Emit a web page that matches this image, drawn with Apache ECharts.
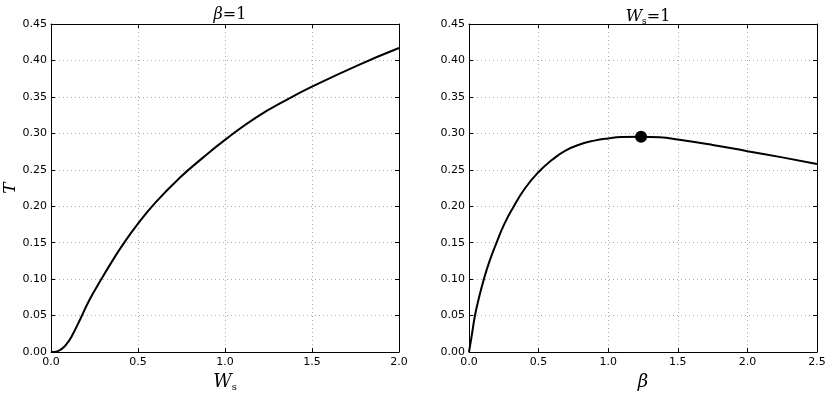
<!DOCTYPE html>
<html>
<head>
<meta charset="utf-8">
<script src="https://cdn.jsdelivr.net/npm/echarts@6/dist/echarts.min.js"></script>
<style>
  html, body { margin: 0; padding: 0; background: #fff; }
  #chart { width: 831px; height: 393px; }
</style>
</head>
<body>
<div id="chart"></div>
<script>
// left panel: T against W_s at beta = 1
const wsValues = [0, 0.03, 0.06, 0.09, 0.12, 0.17, 0.22, 0.287, 0.35, 0.412, 0.5, 0.6, 0.74, 0.87, 1.0, 1.18, 1.37, 1.5, 1.76, 2.0]
const tLeft = [0, 0.0005, 0.004, 0.011, 0.022, 0.046, 0.071, 0.099, 0.124, 0.147, 0.176, 0.205, 0.239, 0.266, 0.291, 0.322, 0.348, 0.364, 0.393, 0.417]

// right panel: T against beta at W_s = 1
const betaValues = [0, 0.02, 0.043, 0.07, 0.107, 0.15, 0.198, 0.25, 0.31, 0.4, 0.5, 0.6, 0.69, 0.8, 0.9, 1.0, 1.1, 1.236, 1.37, 1.5, 1.75, 2.0, 2.25, 2.5]
const tRight = [0, 0.023, 0.05, 0.073, 0.10, 0.126, 0.15, 0.174, 0.196, 0.224, 0.247, 0.264, 0.276, 0.285, 0.29, 0.293, 0.2948, 0.2954, 0.2945, 0.2915, 0.284, 0.2755, 0.267, 0.258]

// optimum marker
const peakPoint = [1.236, 0.2954]

const chartInstance = echarts.init(document.getElementById('chart'))

const tickFont = { fontFamily: 'DejaVu Sans', fontSize: 11, color: '#000' }
const frameLine = { show: true, onZero: false, lineStyle: { color: '#000', width: 1 } }
const innerTick = { show: true, inside: true, length: 4, lineStyle: { color: '#000' } }
const dotted = { show: true, lineStyle: { color: '#aaa', type: [1, 3], width: 1 } }

function bottomAxis (grid, max, name, nameRich, gap) {
  return {
    type: 'value',
    gridIndex: grid,
    position: 'bottom',
    min: 0,
    max: max,
    interval: 0.5,
    axisLine: frameLine,
    axisTick: innerTick,
    splitLine: dotted,
    axisLabel: Object.assign({ margin: 5, formatter: v => v.toFixed(1) }, tickFont),
    name: name,
    nameLocation: 'middle',
    nameGap: gap,
    nameTextStyle: { rich: nameRich }
  }
}

function topAxis (grid, max) {
  return {
    type: 'value',
    gridIndex: grid,
    position: 'top',
    min: 0,
    max: max,
    interval: 0.5,
    axisLine: frameLine,
    axisTick: innerTick,
    splitLine: { show: false },
    axisLabel: { show: false }
  }
}

function leftAxis (grid, name) {
  return {
    type: 'value',
    gridIndex: grid,
    position: 'left',
    min: 0,
    max: 0.45,
    interval: 0.05,
    axisLine: frameLine,
    axisTick: innerTick,
    splitLine: dotted,
    axisLabel: Object.assign({ margin: 4, formatter: v => v.toFixed(2) }, tickFont),
    name: name,
    nameLocation: 'middle',
    nameGap: 28,
    nameRotate: 90,
    nameTextStyle: { fontFamily: 'DejaVu Serif', fontStyle: 'italic', fontSize: 17, color: '#000' }
  }
}

function rightAxis (grid) {
  return {
    type: 'value',
    gridIndex: grid,
    position: 'right',
    min: 0,
    max: 0.45,
    interval: 0.05,
    axisLine: frameLine,
    axisTick: innerTick,
    splitLine: { show: false },
    axisLabel: { show: false }
  }
}

const serifRich = {
  i: { fontFamily: 'DejaVu Serif', fontStyle: 'italic', fontWeight: 'normal', fontSize: 18, color: '#000' },
  s: { fontFamily: 'DejaVu Serif', fontWeight: 'normal', fontSize: 10, color: '#000', padding: [12, 0, 0, 0] },
  n: { fontFamily: 'DejaVu Serif', fontWeight: 'normal', fontSize: 17, color: '#000' }
}

const titleRich = {
  i: { fontFamily: 'DejaVu Serif', fontStyle: 'italic', fontWeight: 'normal', fontSize: 16, color: '#000' },
  s: { fontFamily: 'DejaVu Serif', fontWeight: 'normal', fontSize: 9, color: '#000', padding: [10, 0, 0, 0] },
  n: { fontFamily: 'DejaVu Serif', fontWeight: 'normal', fontSize: 16, color: '#000' }
}

const option = {
  animation: false,
  backgroundColor: '#fff',
  title: [
    {
      text: '{i|β}{n|=1}',
      left: 225,
      top: 2,
      textAlign: 'center',
      textStyle: { fontWeight: 'normal', rich: titleRich }
    },
    {
      text: '{i|W}{s|s}{n|=1}',
      left: 643,
      top: 2,
      textAlign: 'center',
      textStyle: { fontWeight: 'normal', rich: titleRich }
    }
  ],
  grid: [
    { left: 51, right: 432, top: 24, bottom: 41, containLabel: false, outerBoundsMode: 'none' },
    { left: 469, right: 14, top: 24, bottom: 41, containLabel: false, outerBoundsMode: 'none' }
  ],
  xAxis: [
    bottomAxis(0, 2.0, '{i|W}{s|s}', serifRich, 15),
    bottomAxis(1, 2.5, '{i|β}', serifRich, 19),
    topAxis(0, 2.0),
    topAxis(1, 2.5)
  ],
  yAxis: [
    leftAxis(0, 'T'),
    leftAxis(1, ''),
    rightAxis(0),
    rightAxis(1)
  ],
  series: [
    {
      type: 'line',
      xAxisIndex: 0,
      yAxisIndex: 0,
      data: wsValues.map((x, i) => [x, tLeft[i]]),
      smooth: 0.5,
      showSymbol: false,
      lineStyle: { color: '#000', width: 2 }
    },
    {
      type: 'line',
      xAxisIndex: 1,
      yAxisIndex: 1,
      data: betaValues.map((x, i) => [x, tRight[i]]),
      smooth: 0.5,
      showSymbol: false,
      lineStyle: { color: '#000', width: 2 }
    },
    {
      type: 'scatter',
      xAxisIndex: 1,
      yAxisIndex: 1,
      data: [peakPoint],
      symbol: 'circle',
      symbolSize: 12,
      itemStyle: { color: '#000', opacity: 1 },
      z: 5
    }
  ]
}

chartInstance.setOption(option)
</script>
</body>
</html>
